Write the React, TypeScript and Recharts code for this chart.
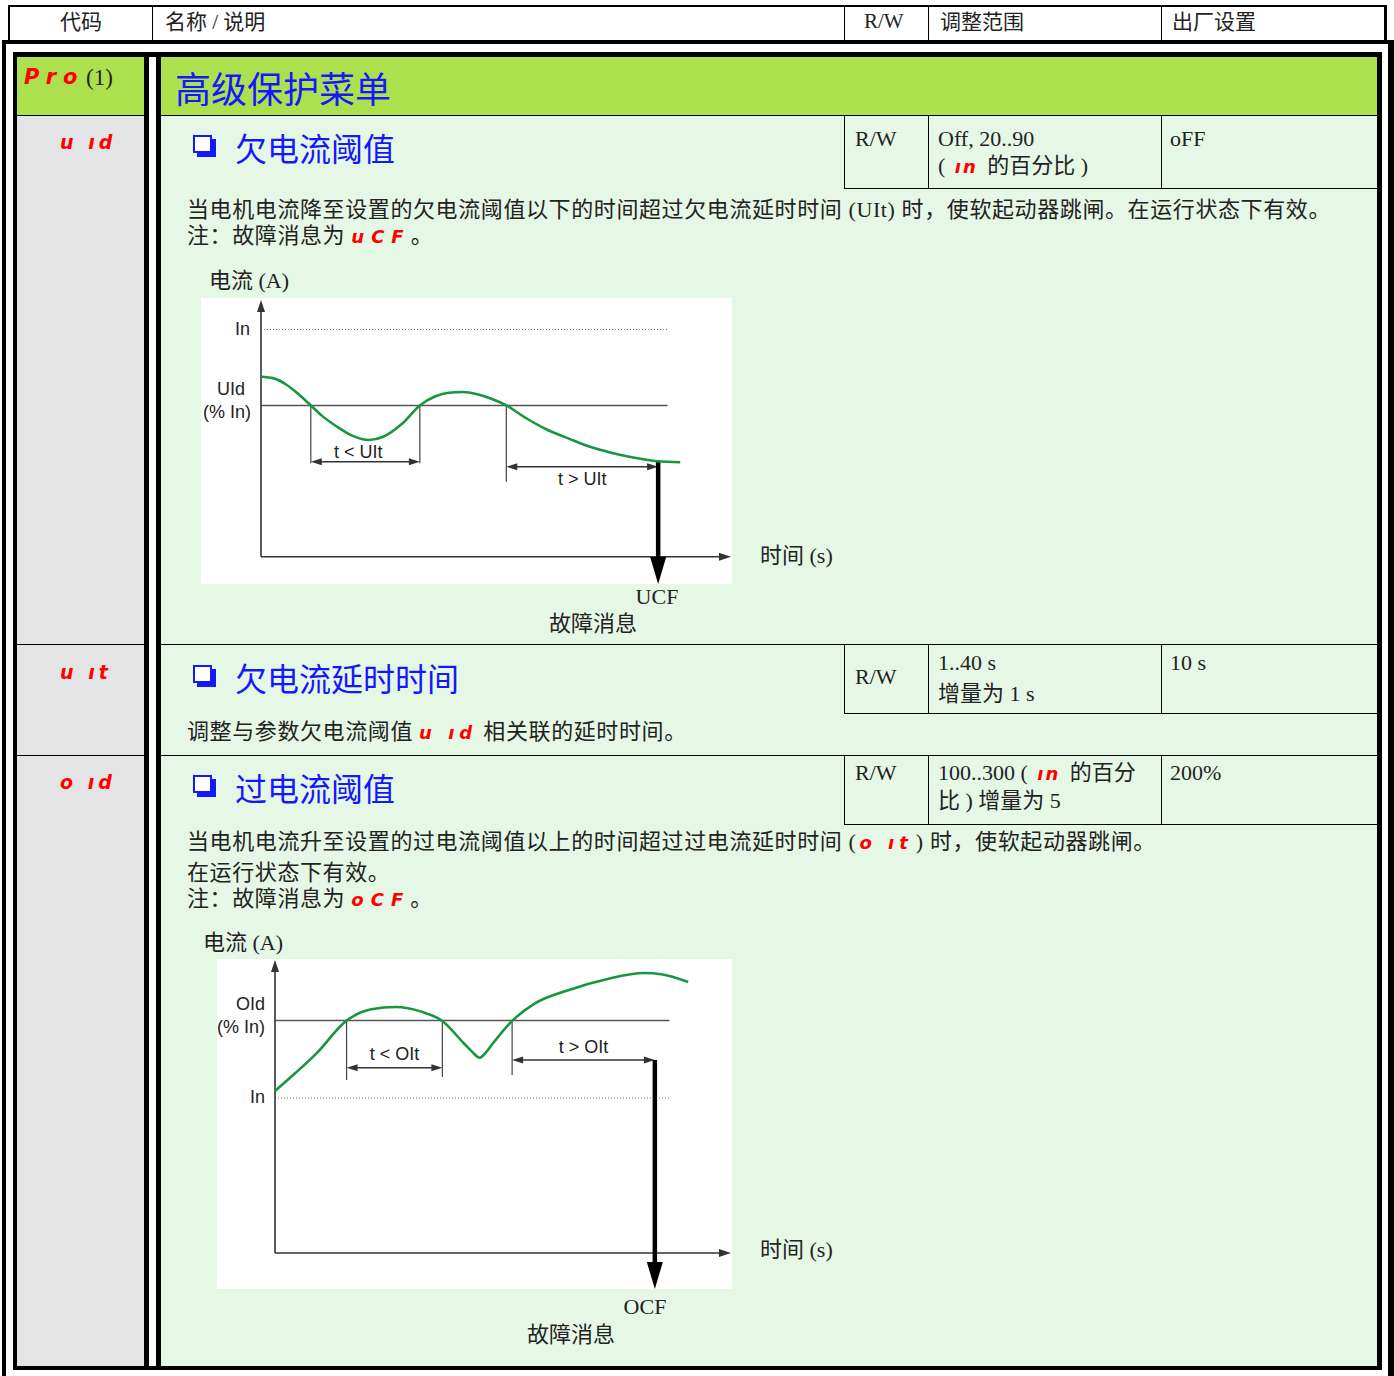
import React from "react";
import { LineChart, Line, XAxis, YAxis, ReferenceLine } from "recharts";

const SERIF = "'Liberation Serif', 'Noto Sans CJK SC', serif";
const SANS = "'Liberation Sans', Arial, sans-serif";
const HEAD = "'Noto Sans CJK SC', sans-serif";
const SEG = "'DejaVu Sans', sans-serif";
const INK = "#222";
const BLUE = "#1616ff";
const CURVE = "#17973d";

// under-current diagram (time in % of axis, current in % of In)
const uidTime = [0, 2.7, 5.5, 8, 10.6, 13, 16.2, 19.5, 23, 26, 30, 33.8, 37, 40, 42.9, 46, 49, 52.2, 56, 61, 65.5, 70, 74.5, 78.9, 84.3, 89.2];
const uidCurrent = [79.2, 78.5, 75.6, 71.5, 66.6, 62, 57.2, 53.2, 51.4, 52.8, 58.5, 66.6, 70.5, 72.2, 72.5, 71.5, 69.5, 66.6, 61.5, 55.8, 52, 48.4, 45.8, 43.8, 42, 41.6];
const uidLevels = [100, 66.6];
const uidLevelLabels = [["In"], ["UId", "(% In)"]];
const uidCrossings = [10.6, 33.8, 52.2];
const uidCrossingEnds = [41.2, 41.2, 33];
const uidSpans = [[10.6, 33.8, 41.8], [52.2, 84.5, 39.6]];
const uidSpanLabels = ["t < UIt", "t > UIt"];
const uidTrip = [84.5, 42];

// over-current diagram
const oidTime = [0, 4.4, 9.1, 15.7, 21.1, 26.5, 32.1, 36.7, 41.4, 43.2, 44.9, 46.4, 47.8, 52, 57, 64.5, 72.7, 81, 84.7, 90.6];
const oidCurrent = [104.5, 115.9, 128.8, 149.9, 157.2, 158.7, 155.7, 149.7, 135.3, 129.9, 126, 129.9, 135.3, 149.7, 161, 169.7, 176.6, 180.6, 179.8, 174.8];
const oidLevels = [150, 100];
const oidLevelLabels = [["OId", "(% In)"], ["In"]];
const oidCrossings = [15.7, 36.7, 52];
const oidCrossingEnds = [111.6, 113.5, 114.8];
const oidSpans = [[15.7, 36.7, 119.5], [52, 83.3, 124.5]];
const oidSpanLabels = ["t < OIt", "t > OIt"];
const oidTrip = [83.3, 124.5];

const levelEnd = 86.5;

const headPoints = (tx: number, ty: number, ux: number, uy: number, len: number, half: number) => {
  const bx = tx - ux * len;
  const by = ty - uy * len;
  return `${tx},${ty} ${bx - uy * half},${by + ux * half} ${bx + uy * half},${by - ux * half}`;
};

const arrow = (stroke: string, width: number, len: number, half: number, start: boolean, end: boolean) => (p: any) => {
  const { x1, y1, x2, y2 } = p;
  const d = Math.hypot(x2 - x1, y2 - y1) || 1;
  const ux = (x2 - x1) / d;
  const uy = (y2 - y1) / d;
  const sx = start ? x1 + ux * len * 0.7 : x1;
  const sy = start ? y1 + uy * len * 0.7 : y1;
  const ex = end ? x2 - ux * len * 0.7 : x2;
  const ey = end ? y2 - uy * len * 0.7 : y2;
  return (
    <g>
      <line x1={sx} y1={sy} x2={ex} y2={ey} stroke={stroke} strokeWidth={width} />
      {start && <polygon points={headPoints(x1, y1, -ux, -uy, len, half)} fill={stroke} />}
      {end && <polygon points={headPoints(x2, y2, ux, uy, len, half)} fill={stroke} />}
    </g>
  );
};

const axisArrow = arrow("#333", 1.6, 12, 4, false, true);
const spanArrow = arrow("#333", 1.4, 11, 3.5, true, true);
const tripArrow = arrow("#000", 4.5, 27, 8, false, true);

interface DiagramProps {
  width: number;
  height: number;
  axisWidth: number;
  top: number;
  yDomain: [number, number];
  time: number[];
  current: number[];
  levels: number[];
  levelLabels: string[][];
  labelRight: number[][];
  crossings: number[];
  crossingEnds: number[];
  spans: number[][];
  spanLabels: string[];
  spanSides: ("top" | "bottom")[];
  spanOffsets: number[];
  spanShift: number[];
  trip: number[];
}

const Diagram: React.FC<DiagramProps> = (props) => {
  const { width, height, axisWidth, top, yDomain, time, current, levels, levelLabels } = props;
  const data = time.map((t, i) => ({ t, i: current[i] }));

  const renderTick = (tp: any) => {
    const idx = levels.indexOf(tp.payload.value);
    const lines = levelLabels[idx] || [];
    return (
      <g>
        {lines.map((s, k) => (
          <text
            key={k}
            x={axisWidth - props.labelRight[idx][k]}
            y={tp.y + (lines.length > 1 ? (k === 0 ? -16 : 7) : -1)}
            textAnchor="end"
            dominantBaseline="central"
            fontFamily={SANS}
            fontSize={18}
            fill="#222"
          >
            {s}
          </text>
        ))}
      </g>
    );
  };

  return (
    <LineChart width={width} height={height} data={data} margin={{ top, right: 1, bottom: 0, left: 0 }} style={{ background: "#fff" }}>
      <XAxis type="number" dataKey="t" domain={[0, 100]} hide />
      <YAxis type="number" domain={yDomain} ticks={levels} interval={0} width={axisWidth} axisLine={false} tickLine={false} tick={renderTick} />
      {levels.map((v, k) => (
        <ReferenceLine
          key={`lv${k}`}
          ifOverflow="visible"
          segment={[{ x: 0, y: v }, { x: levelEnd, y: v }]}
          stroke={levelLabels[k][0] === "In" ? "#777" : "#555"}
          strokeWidth={levelLabels[k][0] === "In" ? 1 : 1.5}
          strokeDasharray={levelLabels[k][0] === "In" ? "1 2" : undefined}
        />
      ))}
      <ReferenceLine ifOverflow="visible" segment={[{ x: 0, y: 0 }, { x: 100, y: 0 }]} shape={axisArrow} />
      <ReferenceLine ifOverflow="visible" segment={[{ x: 0, y: 0 }, { x: 0, y: yDomain[1] }]} shape={axisArrow} />
      {props.crossings.map((t, k) => (
        <ReferenceLine
          key={`cr${k}`}
          ifOverflow="visible"
          segment={[{ x: t, y: levels[levelLabels[0][0] === "In" ? 1 : 0] }, { x: t, y: props.crossingEnds[k] }]}
          stroke="#444"
          strokeWidth={1.2}
        />
      ))}
      {props.spans.map((s, k) => (
        <ReferenceLine
          key={`sp${k}`}
          ifOverflow="visible"
          segment={[{ x: s[0], y: s[2] }, { x: s[1], y: s[2] }]}
          shape={spanArrow}
          label={{
            value: props.spanLabels[k],
            position: props.spanSides[k],
            offset: props.spanOffsets[k],
            dx: props.spanShift[k],
            fontFamily: SANS,
            fontSize: 18,
            fill: "#222",
          }}
        />
      ))}
      <ReferenceLine
        ifOverflow="visible"
        segment={[{ x: props.trip[0], y: props.trip[1] }, { x: props.trip[0], y: yDomain[0] }]}
        shape={tripArrow}
      />
      <Line type="monotone" dataKey="i" stroke={CURVE} strokeWidth={2.6} dot={false} isAnimationActive={false} />
    </LineChart>
  );
};

const Box: React.FC<{ x: number; y: number; w: number; h: number; bg?: string }> = ({ x, y, w, h, bg = "#000" }) => (
  <div style={{ position: "absolute", left: x, top: y, width: w, height: h, background: bg }} />
);

const Txt: React.FC<{ x: number; y: number; size?: number; color?: string; font?: string; center?: boolean; ls?: number; children: React.ReactNode }> = ({
  x,
  y,
  size = 22,
  color = INK,
  font = SERIF,
  center,
  ls = 0,
  children,
}) => (
  <div
    style={{
      position: "absolute",
      left: center ? x - 300 : x,
      width: center ? 600 : undefined,
      textAlign: center ? "center" : "left",
      top: y - size / 2,
      fontSize: size,
      lineHeight: `${size}px`,
      fontFamily: font,
      color,
      whiteSpace: "nowrap",
      letterSpacing: ls,
    }}
  >
    {children}
  </div>
);

const Seg: React.FC<{ size?: number; gap?: number; pad?: number; children: React.ReactNode }> = ({ size = 18, gap = 5, pad = 0, children }) => (
  <span
    style={{
      fontFamily: SEG,
      fontWeight: 700,
      fontStyle: "italic",
      color: "#ff0000",
      fontSize: size,
      letterSpacing: gap,
      margin: `0 ${pad}px`,
    }}
  >
    {children}
  </span>
);

const Heading: React.FC<{ y: number; children: React.ReactNode }> = ({ y, children }) => (
  <>
    <div
      style={{
        position: "absolute",
        left: 193,
        top: y - 12,
        width: 19,
        height: 18,
        boxSizing: "border-box",
        border: `2px solid ${BLUE}`,
        background: "#fff",
        boxShadow: `4px 4px 0 ${BLUE}`,
      }}
    />
    <Txt x={235} y={y} size={32} color={BLUE} font={HEAD}>
      {children}
    </Txt>
  </>
);

const SubTable: React.FC<{ y0: number; y1: number }> = ({ y0, y1 }) => (
  <>
    <Box x={844} y={y0} w={1} h={y1 - y0} />
    <Box x={928} y={y0} w={1} h={y1 - y0} />
    <Box x={1161} y={y0} w={1} h={y1 - y0} />
    <Box x={844} y={y1} w={533} h={1} />
  </>
);

export default function App() {
  return (
    <div style={{ position: "absolute", left: 0, top: 0, width: 1394, height: 1376, background: "#fff", overflow: "hidden" }}>
      {/* header row */}
      <Box x={8} y={5} w={1379} h={2} />
      <Box x={8} y={5} w={2} h={36} />
      <Box x={1384} y={5} w={3} h={36} />
      <Box x={152} y={7} w={1} h={33} />
      <Box x={844} y={7} w={1} h={33} />
      <Box x={928} y={7} w={1} h={33} />
      <Box x={1161} y={7} w={1} h={33} />
      <Txt x={60} y={22} size={21}>代码</Txt>
      <Txt x={165} y={22} size={21}>名称 / 说明</Txt>
      <Txt x={864} y={21} size={21}>R/W</Txt>
      <Txt x={940} y={22} size={21}>调整范围</Txt>
      <Txt x={1172} y={22} size={21}>出厂设置</Txt>

      {/* outer frame */}
      <Box x={2} y={40} w={1392} h={4} />
      <Box x={2} y={40} w={4} h={1336} />
      <Box x={1388} y={40} w={6} h={1336} />

      {/* backgrounds */}
      <Box x={17} y={57} w={127} h={58} bg="#ace14d" />
      <Box x={17} y={115} w={127} h={1251} bg="#e4e4e4" />
      <Box x={161} y={57} w={1216} h={58} bg="#ace14d" />
      <Box x={161} y={115} w={1216} h={1251} bg="#e5f8e5" />

      {/* inner frame */}
      <Box x={13} y={52} w={1369} h={5} />
      <Box x={13} y={52} w={4} h={1318} />
      <Box x={1377} y={52} w={5} h={1318} />
      <Box x={13} y={1366} w={1369} h={4} />
      <Box x={144} y={57} w={5} h={1309} />
      <Box x={156} y={57} w={5} h={1309} />

      {/* row rules */}
      {[115, 644, 755].map((y) => (
        <React.Fragment key={y}>
          <Box x={17} y={y} w={127} h={1} />
          <Box x={161} y={y} w={1216} h={1} />
        </React.Fragment>
      ))}

      {/* Pro */}
      <Txt x={24} y={77}>
        <Seg size={21} gap={7}>Pro</Seg>
      </Txt>
      <Txt x={86} y={77} size={23}>(1)</Txt>
      <Txt x={175} y={87} size={36} color={BLUE} font={HEAD}>高级保护菜单</Txt>

      {/* uId */}
      <Txt x={60} y={142}>
        <Seg size={19} gap={4}>u ıd</Seg>
      </Txt>
      <Heading y={147}>欠电流阈值</Heading>
      <SubTable y0={116} y1={188} />
      <Txt x={855} y={139}>R/W</Txt>
      <Txt x={938} y={139}>Off, 20..90</Txt>
      <Txt x={938} y={166}>
        ( <Seg size={18} gap={2} pad={4}>ın</Seg> 的百分比 )
      </Txt>
      <Txt x={1170} y={139}>oFF</Txt>
      <Txt x={187} y={210} ls={0.6}>当电机电流降至设置的欠电流阈值以下的时间超过欠电流延时时间 (UIt) 时，使软起动器跳闸。在运行状态下有效。</Txt>
      <Txt x={187} y={236} ls={0.6}>
        注：故障消息为 <Seg gap={7}>uCF</Seg>。
      </Txt>
      <Txt x={209} y={281}>电流 (A)</Txt>
      <div style={{ position: "absolute", left: 201, top: 298 }}>
        <Diagram
          width={531}
          height={286}
          axisWidth={60}
          top={2}
          yDomain={[-12, 113]}
          time={uidTime}
          current={uidCurrent}
          levels={uidLevels}
          levelLabels={uidLevelLabels}
          labelRight={[[11], [16, 10]]}
          crossings={uidCrossings}
          crossingEnds={uidCrossingEnds}
          spans={uidSpans}
          spanLabels={uidSpanLabels}
          spanSides={["top", "bottom"]}
          spanOffsets={[4, 5]}
          spanShift={[-7, 0]}
          trip={uidTrip}
        />
      </div>
      <Txt x={760} y={556}>时间 (s)</Txt>
      <Txt x={657} y={597} center>UCF</Txt>
      <Txt x={593} y={624} center>故障消息</Txt>

      {/* uIt */}
      <Txt x={60} y={672}>
        <Seg size={19} gap={4}>u ıt</Seg>
      </Txt>
      <Heading y={677}>欠电流延时时间</Heading>
      <SubTable y0={645} y1={713} />
      <Txt x={855} y={677}>R/W</Txt>
      <Txt x={938} y={663}>1..40 s</Txt>
      <Txt x={938} y={694}>增量为 1 s</Txt>
      <Txt x={1170} y={663}>10 s</Txt>
      <Txt x={187} y={732} ls={0.6}>
        调整与参数欠电流阈值 <Seg gap={5}>u ıd</Seg> 相关联的延时时间。
      </Txt>

      {/* oId */}
      <Txt x={60} y={782}>
        <Seg size={19} gap={4}>o ıd</Seg>
      </Txt>
      <Heading y={787}>过电流阈值</Heading>
      <SubTable y0={756} y1={824} />
      <Txt x={855} y={773}>R/W</Txt>
      <Txt x={938} y={773}>
        100..300 ( <Seg size={18} gap={2} pad={4}>ın</Seg> 的百分
      </Txt>
      <Txt x={938} y={801}>比 ) 增量为 5</Txt>
      <Txt x={1170} y={773}>200%</Txt>
      <Txt x={187} y={842} ls={0.6}>
        当电机电流升至设置的过电流阈值以上的时间超过过电流延时时间 (<Seg gap={5} pad={3}>o ıt</Seg>) 时，使软起动器跳闸。
      </Txt>
      <Txt x={187} y={873} ls={0.6}>在运行状态下有效。</Txt>
      <Txt x={187} y={899} ls={0.6}>
        注：故障消息为 <Seg gap={7}>oCF</Seg>。
      </Txt>
      <Txt x={203} y={943}>电流 (A)</Txt>
      <div style={{ position: "absolute", left: 217, top: 959 }}>
        <Diagram
          width={515}
          height={330}
          axisWidth={58}
          top={1}
          yDomain={[-23.2, 189]}
          time={oidTime}
          current={oidCurrent}
          levels={oidLevels}
          levelLabels={oidLevelLabels}
          labelRight={[[10, 10], [10]]}
          crossings={oidCrossings}
          crossingEnds={oidCrossingEnds}
          spans={oidSpans}
          spanLabels={oidSpanLabels}
          spanSides={["top", "top"]}
          spanOffsets={[8, 7]}
          spanShift={[0, 0]}
          trip={oidTrip}
        />
      </div>
      <Txt x={760} y={1250}>时间 (s)</Txt>
      <Txt x={645} y={1307} center>OCF</Txt>
      <Txt x={571} y={1335} center>故障消息</Txt>
    </div>
  );
}
